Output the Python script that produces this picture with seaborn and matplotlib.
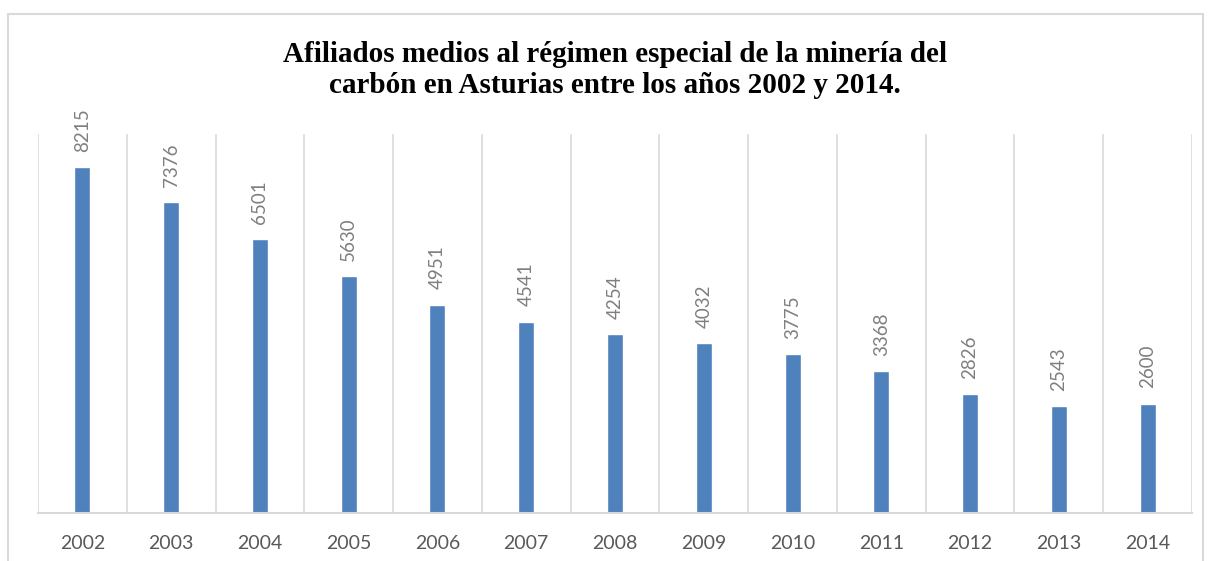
import matplotlib
matplotlib.use("Agg")
import matplotlib.pyplot as plt
import seaborn as sns
import pandas as pd
from matplotlib.patches import Rectangle

years = ["2002", "2003", "2004", "2005", "2006", "2007", "2008",
         "2009", "2010", "2011", "2012", "2013", "2014"]
afiliados = [8215, 7376, 6501, 5630, 4951, 4541, 4254,
             4032, 3775, 3368, 2826, 2543, 2600]
title = ("Afiliados medios al régimen especial de la minería del\n"
         "carbón en Asturias entre los años 2002 y 2014.")

df = pd.DataFrame({"year": years, "value": afiliados})

sns.set_style("white")
plt.rcParams["font.family"] = ["Lato", "DejaVu Sans"]

fig = plt.figure(figsize=(12.09, 5.61), dpi=100)
ax = fig.add_axes([38 / 1209, 48 / 561, (1192 - 38) / 1209, (513 - 134) / 561])

sns.barplot(data=df, x="year", y="value", color="#4F81BD", width=0.18,
            saturation=1, ax=ax)

ax.set_ylim(0, 9000)
ax.set_xlim(-0.5, len(years) - 0.5)
ax.set_yticks([])
ax.set_xlabel("")
ax.set_ylabel("")

# vertical gridlines between categories
ax.set_xticks([i - 0.5 for i in range(len(years) + 1)], minor=True)
ax.grid(True, which="minor", axis="x", color="#d9d9d9", linewidth=1.2)
ax.tick_params(axis="x", which="both", length=0)
ax.tick_params(axis="x", which="major", pad=16)

for lbl in ax.get_xticklabels():
    lbl.set_fontsize(14)
    lbl.set_color("#595959")

for s in ["top", "right", "left"]:
    ax.spines[s].set_visible(False)
ax.spines["bottom"].set_color("#d9d9d9")
ax.spines["bottom"].set_linewidth(1.5)

for i, v in enumerate(afiliados):
    ax.annotate(str(v), (i, v), xytext=(0, 11), textcoords="offset points",
                rotation=90, ha="center", va="bottom", fontsize=13.5,
                color="#7f7f7f")

fig.text(615 / 1209, 1 - 70 / 561, title, ha="center", va="center",
         fontsize=21, fontweight="bold", family="Liberation Serif",
         linespacing=1.15, color="#000000")

fig.patches.append(Rectangle((8 / 1209, -0.1), (1203 - 8) / 1209, 1.1 - 14 / 561,
                             transform=fig.transFigure, fill=False,
                             edgecolor="#d9d9d9", linewidth=1.5))

fig.savefig("out.png", dpi=100)
